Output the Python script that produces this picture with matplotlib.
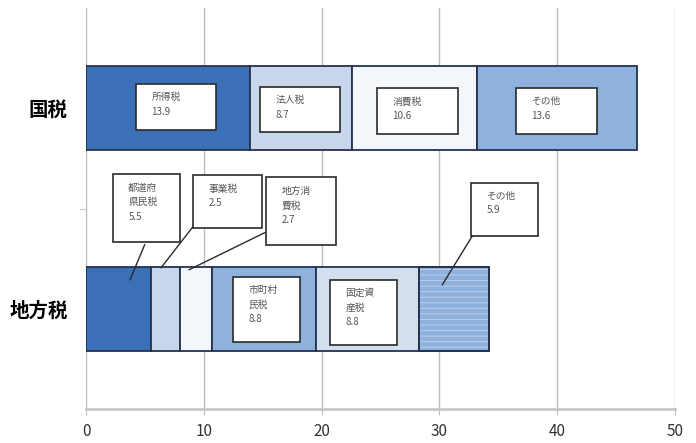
import numpy as np
import matplotlib.pyplot as plt
from matplotlib.patches import Rectangle

plt.rcParams["font.family"] = ["Noto Sans CJK JP", "DejaVu Sans"]

# data
categories = ["地方税", "国税"]
national_names = ["所得税", "法人税", "消費税", "その他"]
national_values = [13.9, 8.7, 10.6, 13.6]
local_names = ["都道府\n県民税", "事業税", "地方消\n費税", "市町村\n民税", "固定資\n産税", "その他"]
local_values = [5.5, 2.5, 2.7, 8.8, 8.8, 5.9]

national_colors = ["#3b6fb6", "#c7d6eb", "#f3f6fb", "#8fb1dd"]
local_colors = ["#3b6fb6", "#c7d6eb", "#f3f6fb", "#8fb1dd", "#d3deef", "#8fb1dd"]
local_hatch = [None, None, None, None, None, "---"]

# label boxes: (x0, x1, y0, y1) in data units; arrows: (start, frac of segment width, target y)
national_boxes = [(4.24, 11.04, 0.89, 1.12), (14.77, 21.56, 0.88, 1.105),
                  (24.70, 31.58, 0.87, 1.10), (36.50, 43.38, 0.87, 1.10)]
local_boxes = [(2.29, 7.98, 0.335, 0.67), (9.08, 14.94, 0.405, 0.665),
               (15.28, 21.22, 0.32, 0.655), (12.48, 18.17, -0.165, 0.16),
               (20.71, 26.40, -0.18, 0.145), (32.68, 38.37, 0.365, 0.63)]
local_arrows = [((4.98, 0.32), 0.68, 0.145), ((9.08, 0.41), 0.35, 0.205),
                ((15.18, 0.38), 0.28, 0.195), None, None,
                ((32.86, 0.37), 0.33, 0.12)]

edge = "#24324f"
bar_h = 0.42

fig = plt.figure(figsize=(6.96, 4.43), dpi=100)
ax = fig.add_axes([0.1236, 0.0767, 0.8463, 0.905])
plt.rcParams["hatch.linewidth"] = 0.7


def draw_row(ypos, values, colors, hatches=None):
    left = 0.0
    lefts = []
    for i, v in enumerate(values):
        ax.barh(ypos, v, left=left, height=bar_h, color=colors[i],
                edgecolor=edge, linewidth=1.3, zorder=3)
        if hatches is not None and hatches[i]:
            ax.barh(ypos, v, left=left, height=bar_h, fill=False, hatch=hatches[i],
                    edgecolor="#bccfe9", linewidth=0, zorder=3.5)
            ax.barh(ypos, v, left=left, height=bar_h, fill=False,
                    edgecolor=edge, linewidth=1.3, zorder=3.6)
        lefts.append(left)
        left += v
    return lefts


nat_lefts = draw_row(1, national_values, national_colors)
loc_lefts = draw_row(0, local_values, local_colors, local_hatch)


def draw_box(box, name, value):
    x0, x1, y0, y1 = box
    ax.add_patch(Rectangle((x0, y0), x1 - x0, y1 - y0, facecolor="white",
                           edgecolor="#2a2a2a", linewidth=1.2, zorder=5))
    ax.text(x0 + 1.3, y1 - 0.04, "{}\n{}".format(name, value), ha="left", va="top",
            fontsize=7, color="#555555", linespacing=1.6, zorder=6)


for i, name in enumerate(national_names):
    draw_box(national_boxes[i], name, national_values[i])

for i, name in enumerate(local_names):
    draw_box(local_boxes[i], name, local_values[i])
    if local_arrows[i] is not None:
        start, frac, ty = local_arrows[i]
        tx = loc_lefts[i] + frac * local_values[i]
        ax.plot([start[0], tx], [start[1], ty], color="#2a2a2a", lw=1.0, zorder=4.5)

ax.set_xlim(0, 50)
ax.set_ylim(-0.5, 1.5)
ax.set_xticks(np.arange(0, 51, 10))
ax.grid(axis="x", color="#bdbdbd", linewidth=1.0, zorder=0)
ax.tick_params(axis="x", length=4, color="#bdbdbd", labelsize=11, labelcolor="#333333", pad=6)

ax.set_yticks([0, 1])
ax.set_yticklabels(categories, fontsize=14, fontweight="bold")
ax.set_yticks([0.5], minor=True)
ax.tick_params(axis="y", which="major", length=0, pad=13)
ax.tick_params(axis="y", which="minor", length=5, color="#bdbdbd")

for s in ["top", "right"]:
    ax.spines[s].set_visible(False)
ax.spines["left"].set_color("#bdbdbd")
ax.spines["bottom"].set_color("#c8c8c8")
ax.spines["bottom"].set_linewidth(2.0)

fig.savefig("out.png", dpi=100)
